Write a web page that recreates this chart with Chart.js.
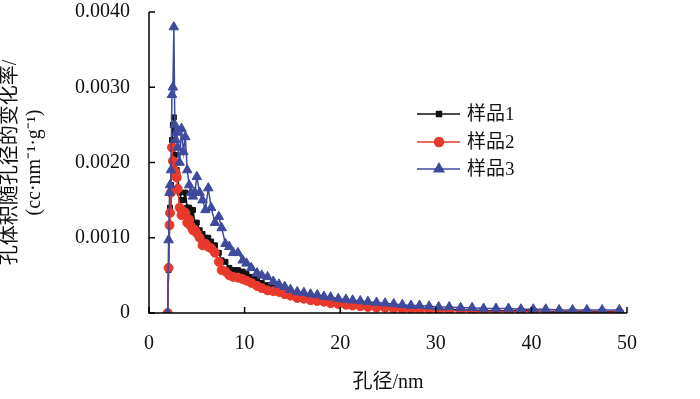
<!DOCTYPE html>
<html>
<head>
<meta charset="utf-8">
<script src="https://cdn.jsdelivr.net/npm/chart.js@4/dist/chart.umd.min.js"></script>
<style>
html,body{margin:0;padding:0;background:#fff;}
#c{display:block;}
</style>
</head>
<body>
<canvas id="c" width="700" height="399"></canvas>
<script>
// ---- data ----
const poreSize = [1.95, 2.05, 2.15, 2.2, 2.3, 2.4, 2.5, 2.6, 2.7, 2.8,
  2.9, 3.0, 3.2, 3.4, 3.6, 3.8, 4.0, 4.2, 4.4, 4.6,
  4.8, 5.0, 5.3, 5.6, 5.9, 6.2, 6.5, 6.9, 7.3, 7.6,
  8.0, 8.4, 8.8, 9.3, 9.8, 10.2, 10.7, 11.3, 11.8, 12.4,
  13.0, 13.6, 14.2, 14.8, 15.5, 16.2, 16.9, 17.6, 18.3, 19.0,
  19.8, 20.6, 21.3, 22.1, 22.9, 23.8, 24.7, 25.6, 26.5, 27.4,
  28.3, 29.3, 30.3, 31.4, 32.6, 33.8, 35.0, 36.3, 37.6, 38.9,
  40.2, 41.5, 42.9, 44.3, 45.8, 47.4, 49.2];
const sample1 = [0, 0.00057, 0.00115, 0.0014, 0.0017, 0.0023, 0.0025, 0.0026, 0.0021, 0.0019,
  0.0019, 0.0018, 0.0016, 0.0015, 0.0015, 0.0016, 0.0014, 0.0014, 0.0013, 0.00137,
  0.0012, 0.0012, 0.0011, 0.00105, 0.001, 0.001, 0.00095, 0.0009, 0.0008, 0.0007,
  0.00068, 0.0006, 0.00057, 0.00057, 0.00055, 0.00052, 0.00048, 0.00045, 0.0004, 0.00037,
  0.00034, 0.00032, 0.00029, 0.00027, 0.00024, 0.00022, 0.0002, 0.00019, 0.00017, 0.00016,
  0.00015, 0.00014, 0.00013, 0.00012, 0.00011, 0.0001, 0.00009, 0.00008, 0.00008, 0.00007,
  0.00006, 0.00006, 0.00005, 0.00005, 0.00004, 0.00004, 0.00003, 0.00003, 0.00003, 0.00003,
  0.00003, 0.00002, 0.00002, 0.00002, 0.00002, 0.00002, 0.00002];
const sample2 = [0, 0.0006, 0.00117, 0.00133, 0.0016, 0.0022, 0.00202, 0.0019, 0.0020, 0.00186,
  0.0018, 0.00165, 0.0014, 0.0013, 0.00135, 0.00133, 0.0012, 0.00124, 0.00115, 0.0011,
  0.0011, 0.00106, 0.0010, 0.0009, 0.00092, 0.00088, 0.00086, 0.0008, 0.00068, 0.00057,
  0.00055, 0.0005, 0.00048, 0.00047, 0.00045, 0.00043, 0.0004, 0.00036, 0.00033, 0.0003,
  0.00029, 0.00028, 0.00025, 0.00023, 0.0002, 0.00019, 0.00017, 0.00016, 0.00015, 0.00013,
  0.00012, 0.00011, 0.0001, 0.00009, 0.00008, 0.00007, 0.00007, 0.00006, 0.00005, 0.00005,
  0.00004, 0.00004, 0.00003, 0.00003, 0.00003, 0.00002, 0.00002, 0.00002, 0.00002, 0.00002,
  0.00002, 0.00001, 0.00001, 0.00001, 0.00001, 0.00001, 0.00001];
const sample3 = [0, 0.00097, 0.0016, 0.0017, 0.0019, 0.0029, 0.0030, 0.0038, 0.0025, 0.0023,
  0.0024, 0.0022, 0.0020, 0.00245, 0.00214, 0.00234, 0.0019, 0.0017, 0.0016, 0.00155,
  0.0016, 0.00181, 0.0016, 0.0015, 0.00137, 0.00166, 0.0014, 0.0012, 0.00128, 0.00113,
  0.00092, 0.00088, 0.0008, 0.0008, 0.0007, 0.00066, 0.0006, 0.00053, 0.0005, 0.00048,
  0.00042, 0.00038, 0.00035, 0.00031, 0.00028, 0.00027, 0.00025, 0.00024, 0.00022, 0.00021,
  0.00019, 0.00018, 0.00017, 0.00016, 0.00015, 0.00014, 0.00013, 0.00012, 0.00011, 0.0001,
  0.0001, 0.00009, 0.00008, 0.00008, 0.00007, 0.00007, 0.00006, 0.00006, 0.00006, 0.00005,
  0.00005, 0.00005, 0.00004, 0.00004, 0.00004, 0.00004, 0.00004];
const seriesNames = ['样品1', '样品2', '样品3'];
const xTicks = [0, 10, 20, 30, 40, 50];
const yTicks = [0, 0.001, 0.002, 0.003, 0.004];
const xTitle = '孔径/nm';
const yTitle1 = '孔体积随孔径的变化率/';
const yTitle2 = '(cc·nm⁻¹·g⁻¹)';

const FONT = '"Liberation Serif", "Noto Sans CJK SC", serif';
const BLACK = '#111111', RED = '#e8392c', BLUE = '#3f4a9c';

function pts(ys) { return poreSize.map((x, i) => ({x: x, y: ys[i]})); }

const styles = [
  {color: BLACK, style: 'rect', r: 3.5, order: 2},
  {color: RED, style: 'circle', r: 4.5, order: 1},
  {color: BLUE, style: 'triangle', r: 5.5, order: 0}
];
const allSeries = [sample1, sample2, sample3];

const datasets = allSeries.map((s, i) => ({
  label: seriesNames[i],
  data: pts(s),
  borderColor: styles[i].color,
  backgroundColor: styles[i].color,
  borderWidth: 1.5,
  pointStyle: styles[i].style,
  pointRadius: styles[i].r,
  pointBorderWidth: 1,
  pointBorderColor: styles[i].color,
  pointBackgroundColor: styles[i].color,
  showLine: true,
  tension: 0,
  order: styles[i].order
}));

const decor = {
  id: 'decor',
  afterDraw(chart) {
    const ctx = chart.ctx;
    const xs = chart.scales.x, ys = chart.scales.y;
    const left = xs.left, right = xs.right, top = ys.top, bottom = ys.bottom;
    ctx.save();
    ctx.strokeStyle = '#000';
    ctx.lineWidth = 1.5;
    ctx.beginPath();
    ctx.moveTo(left, top);
    ctx.lineTo(left, bottom);
    ctx.lineTo(right, bottom);
    ctx.stroke();
    // inside ticks
    ctx.beginPath();
    yTicks.forEach(v => { const p = ys.getPixelForValue(v); ctx.moveTo(left, p); ctx.lineTo(left + 6, p); });
    xTicks.forEach(v => { const p = xs.getPixelForValue(v); ctx.moveTo(p, bottom); ctx.lineTo(p, bottom - 6); });
    ctx.stroke();
    // axis titles
    ctx.fillStyle = '#111';
    ctx.font = '20px ' + FONT;
    ctx.textAlign = 'center';
    ctx.textBaseline = 'middle';
    ctx.fillText(xTitle, (left + right) / 2, 383);
    const cy = (top + bottom) / 2;
    ctx.save();
    ctx.translate(11, cy);
    ctx.rotate(-Math.PI / 2);
    ctx.fillText(yTitle1, 0, 0);
    ctx.restore();
    ctx.save();
    ctx.translate(35, cy);
    ctx.rotate(-Math.PI / 2);
    ctx.fillText(yTitle2, 0, 0);
    ctx.restore();
    // legend
    const rows = [114, 142, 169];
    rows.forEach((yy, i) => {
      const st = styles[i];
      ctx.strokeStyle = st.color;
      ctx.fillStyle = st.color;
      ctx.lineWidth = 1.5;
      ctx.beginPath();
      ctx.moveTo(417, yy); ctx.lineTo(460, yy);
      ctx.stroke();
      Chart.helpers.drawPoint(ctx, {pointStyle: st.style, radius: st.r, rotation: 0, borderWidth: 1}, 439, yy);
      ctx.fill();
      ctx.fillStyle = '#111';
      ctx.font = '19px ' + FONT;
      ctx.textAlign = 'left';
      ctx.textBaseline = 'middle';
      ctx.fillText(seriesNames[i], 467, yy + 1);
    });
    ctx.restore();
  }
};

new Chart(document.getElementById('c'), {
  type: 'scatter',
  data: {datasets: datasets},
  plugins: [decor],
  options: {
    responsive: false,
    animation: false,
    devicePixelRatio: 1,
    layout: {padding: {left: 0, top: 12, right: 73, bottom: 0}},
    plugins: {legend: {display: false}, tooltip: {enabled: false}},
    scales: {
      x: {
        type: 'linear', min: 0, max: 50,
        afterBuildTicks: s => { s.ticks = xTicks.map(v => ({value: v})); },
        afterFit: s => { s.height = 86; s.paddingLeft = 0; s.paddingRight = 0; },
        grid: {display: false, drawTicks: false},
        border: {display: false},
        ticks: {color: '#111', font: {family: FONT, size: 20}, padding: 19, maxRotation: 0,
          callback: v => String(v)}
      },
      y: {
        type: 'linear', min: 0, max: 0.004,
        afterBuildTicks: s => { s.ticks = yTicks.map(v => ({value: v})); },
        afterFit: s => { s.width = 149; s.paddingTop = 0; s.paddingBottom = 0; },
        grid: {display: false, drawTicks: false},
        border: {display: false},
        ticks: {color: '#111', font: {family: FONT, size: 20}, padding: 19,
          callback: v => v === 0 ? '0' : Number(v).toFixed(4)}
      }
    }
  }
});
</script>
</body>
</html>
